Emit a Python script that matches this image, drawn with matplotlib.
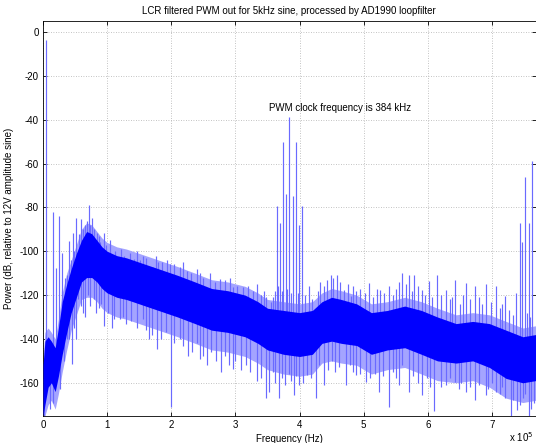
import numpy as np
import matplotlib
matplotlib.use("Agg")
import matplotlib.pyplot as plt
from matplotlib.ticker import FuncFormatter

plt.rcParams['font.family'] = ['Liberation Sans', 'DejaVu Sans']

# ---- data (frequency in kHz, level in dB) ----
# dense core of the noise floor: frequency, upper edge, lower edge
core_f   = [0, 3, 8, 13, 19, 24, 30, 37, 44, 52, 60, 68, 76, 84, 92, 100, 115, 130, 150, 170,
            190, 210, 237, 263, 288, 315, 335, 350, 375, 400, 420, 435, 450, 465, 489, 512, 537,
            564, 590, 615, 644, 670, 696, 722, 748, 768]
core_top = [-152, -141, -139, -141, -144, -135, -123, -115, -108, -101, -95, -91, -92, -95, -98,
            -100, -102, -103, -105, -107, -109, -111, -114, -117, -118, -120, -123, -126, -127,
            -128, -127, -123, -121, -122, -124, -128, -127, -125, -127, -130, -133, -132, -133,
            -136, -139, -138]
core_bot = [-175, -170, -162, -160, -164, -157, -147, -137, -128, -121, -114, -112, -112, -114,
            -117, -119, -121, -122, -124, -126, -128, -130, -133, -136, -137, -139, -142, -145,
            -147, -148, -147, -142, -141, -142, -143, -147, -145, -144, -147, -150, -151, -150,
            -153, -158, -160, -159]
# lighter fringe around the core: upper edge, lower edge
fringe_top = [-148, -137, -135, -137, -140, -131, -119, -110, -104, -97, -90, -87, -88, -91, -94,
              -96, -98, -99, -101, -103, -105, -107, -110, -113, -114, -116, -119, -122, -123,
              -124, -123, -119, -117, -118, -120, -124, -123, -121, -123, -126, -129, -128, -129,
              -132, -135, -134]
fringe_bot = [-175, -175, -170, -168, -172, -165, -155, -145, -136, -129, -122, -121, -121, -123,
              -126, -128, -130, -131, -133, -135, -137, -139, -142, -145, -146, -148, -151, -154,
              -156, -157, -156, -151, -150, -151, -152, -156, -154, -153, -156, -159, -160, -159,
              -162, -167, -169, -168]

# upward spikes: frequency, peak level
up_f   = [5, 15, 25, 21, 30, 37, 40, 47, 52, 60, 66, 71, 77, 84, 89, 95, 109, 117, 130, 142,
          156, 172, 180, 198, 213, 224, 245, 255, 276, 296, 312, 333, 348, 355,
          364.5, 370, 374.3, 378.5, 384, 389.9, 394.1, 399.5, 404,
          415, 438, 449, 459, 469, 480, 488, 508, 526, 545, 560, 570, 578, 591, 602, 615,
          628, 643, 659, 674, 690, 706, 721, 737, 743, 747, 752, 757, 763]
up_top = [-3.5, -82, -84, -107.5, -100.7, -111, -95.3, -91.5, -84.7, -85.5, -87.9, -78.8, -85,
          -91.5, -96, -91.5, -107, -105, -108, -103.6, -102, -107, -105, -106, -107, -109, -110,
          -117, -112.6, -116.5, -116.5, -115, -121, -123,
          -79.5, -87, -50, -74, -38.6, -74.7, -50, -88, -79.5,
          -116, -116, -111, -111, -117.5, -120.6, -118, -114.5, -117.5, -120, -110, -111, -111,
          -117.5, -113.6, -111, -117.5, -113, -114.5, -116, -115, -116, -120.6, -119, -87, -96,
          -66, -87, -58.8]

# downward spikes: frequency, lowest level
dn_f   = [2, 11, 16, 26, 37, 45, 52, 60, 66, 82, 95, 107, 120, 130, 156, 165, 178, 199, 213, 226,
          245, 255, 278, 296, 316, 333, 348, 352, 368, 378, 391, 399, 412, 425, 438, 456, 472,
          488, 503, 524, 539, 555, 570, 591, 610, 628, 643, 659, 674, 690, 706, 721, 729, 739,
          749, 757, 765]
dn_bot = [-175, -172, -169, -163, -140, -151.5, -140, -125, -130, -128, -134, -135, -131, -133,
          -131, -140, -144.7, -171, -140, -147.6, -149, -152, -155, -153.5, -152, -159, -167,
          -164, -167, -161, -165.6, -161, -156.5, -167, -161, -155, -161, -156.5, -159.5, -164,
          -171, -161, -164, -165.6, -173, -161, -159.5, -164, -168, -165.6, -164, -167, -175,
          -172.5, -167, -175, -169]

# shorter hairs along the edges of the noise band
hair_up_f   = [30, 35, 43, 48, 56, 63, 69, 74, 80, 87, 98, 104, 112, 122, 126, 136, 146, 152, 161,
               176, 186, 194, 205, 218, 230, 240, 250, 260, 268, 283, 292, 302, 320, 328, 340, 345,
               358, 361, 367, 372, 381, 386, 397, 408, 420, 428, 432, 443, 452, 463, 475, 484,
               495, 502, 515, 520, 532, 540, 550, 555, 566, 575, 584, 596, 607, 620, 634, 638,
               650, 655, 665, 680, 685, 698, 712, 716, 727, 733, 754, 760]
hair_up_top = [-118, -112, -104, -100, -92, -90, -86, -88, -90, -93, -97, -95, -100, -99, -102,
               -101, -100, -104, -103, -102, -105, -104, -106, -105, -110, -108, -112, -110, -114,
               -113, -112, -116, -116, -118, -120, -118, -121, -118, -116, -118, -117, -119, -119,
               -120, -122, -118, -114, -113, -112, -114, -115, -116, -117, -119, -121, -117, -119,
               -116, -117, -114, -115, -118, -116, -120, -121, -120, -122, -121, -124, -120, -122,
               -121, -124, -123, -126, -124, -127, -129, -128, -130]
hair_dn_f   = [33, 40, 48, 55, 63, 70, 74, 79, 88, 91, 102, 111, 125, 137, 147, 160, 170, 184, 192,
               205, 218, 232, 240, 250, 262, 270, 283, 290, 300, 309, 322, 340, 358, 362, 372, 383,
               387, 395, 405, 418, 430, 445, 450, 462, 478, 483, 495, 510, 517, 530, 545, 550,
               560, 577, 585, 598, 604, 620, 635, 648, 652, 665, 680, 694, 700, 712, 716, 733,
               744, 752, 761]
hair_dn_bot = [-150, -140, -135, -122, -128, -120, -125, -122, -126, -124, -128, -131, -130, -132,
               -135, -136, -138, -140, -137, -142, -143, -146, -142, -148, -146, -150, -148, -152,
               -150, -154, -155, -158, -155, -160, -158, -156, -159, -157, -160, -158, -152, -154,
               -150, -153, -152, -155, -156, -158, -156, -157, -155, -158, -152, -157, -160, -158,
               -162, -162, -158, -163, -160, -162, -161, -163, -160, -165, -162, -168, -170, -165,
               -172]

xticks = [0, 1, 2, 3, 4, 5, 6, 7]
yticks = [-160, -140, -120, -100, -80, -60, -40, -20, 0]

title = 'LCR filtered PWM out for 5kHz sine, processed by AD1990 loopfilter'
xlabel = 'Frequency (Hz)'
ylabel = 'Power (dB, relative to 12V amplitude sine)'
note = 'PWM clock frequency is 384 kHz'

# ---- figure ----
W, H = 536, 443
fig = plt.figure(figsize=(W / 100, H / 100), dpi=100)
ax = fig.add_axes([43 / W, (H - 415.7) / H, (535.6 - 43) / W, (415.7 - 21) / H])

hz = lambda v: np.asarray(v, dtype=float) * 1e3
cf = hz(core_f)
core_mid = (np.array(core_top) + np.array(core_bot)) / 2

ax.fill_between(cf, fringe_bot, fringe_top, color='#a4a4ff', lw=0, zorder=2)

spike_col = '#6a6aff'
for fl, vals, up in [(up_f, up_top, True), (dn_f, dn_bot, False),
                     (hair_up_f, hair_up_top, True), (hair_dn_f, hair_dn_bot, False)]:
    f = hz(fl)
    mid = np.interp(f, cf, core_mid)
    if up:
        ax.vlines(f, mid, vals, color=spike_col, lw=0.85, zorder=3)
    else:
        ax.vlines(f, vals, mid, color=spike_col, lw=0.85, zorder=3)

ax.fill_between(cf, core_bot, core_top, color='#0000ff', lw=0, zorder=4)

ax.set_xlim(0, 768e3)
ax.set_ylim(-175, 5)
ax.set_xticks([t * 1e5 for t in xticks])
ax.xaxis.set_major_formatter(FuncFormatter(lambda v, p: '%g' % (v / 1e5)))
ax.set_yticks(yticks)
ax.yaxis.set_major_formatter(FuncFormatter(lambda v, p: '%d' % v))

ax.grid(True, color='#b0b0b0', linestyle=(0, (1, 2)), linewidth=0.6)
ax.set_axisbelow(True)
ax.tick_params(direction='in', top=True, right=True, labelsize=7, length=3, width=0.6, pad=3)
for s in ax.spines.values():
    s.set_linewidth(0.6)

ax.set_title(title, fontsize=7, pad=5)
ax.set_xlabel(xlabel, fontsize=7, labelpad=3)
ax.set_ylabel(ylabel, fontsize=7, labelpad=4)
ax.text(351.6e3, -34.8, note, fontsize=7, va='center', ha='left')
fig.text(509 / W, 1 - 437 / H, r'x 10$^5$', fontsize=7, ha='left', va='center')

fig.savefig('out.png', dpi=100)
